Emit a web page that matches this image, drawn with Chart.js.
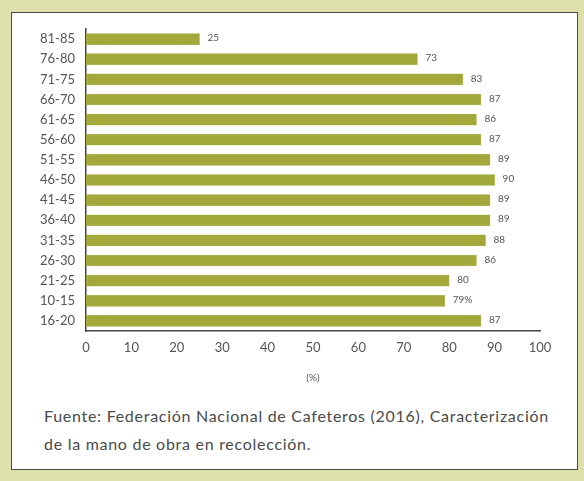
<!DOCTYPE html>
<html>
<head>
<meta charset="utf-8">
<script src="https://cdn.jsdelivr.net/npm/chart.js@4"></script>
<style>
  html, body { margin: 0; padding: 0; background: #dde0ab; }
  #wrap { position: relative; width: 584px; height: 481px; }
  #box {
    position: absolute; left: 11px; top: 12px; width: 565px; height: 456px;
    background: #ffffff; border: 1.5px solid #4a4a4a;
  }
  #myChart { position: absolute; left: 0; top: 0; }
  #fuente {
    position: absolute; left: 44px; top: 402px; width: 530px; white-space: nowrap;
    font-family: "Lato", sans-serif; font-size: 16px; line-height: 28px; color: #4a4a4a;
    letter-spacing: 0.72px;
  }
</style>
</head>
<body>
<div id="wrap">
  <div id="box"></div>
  <canvas id="myChart" width="584" height="400"></canvas>
  <div id="fuente">Fuente: Federación Nacional de Cafeteros (2016), Caracterización<br>de la mano de obra en recolección.</div>
</div>
<script>
// grupos de edad, de arriba hacia abajo
const edades = ['81-85', '76-80', '71-75', '66-70', '61-65', '56-60', '51-55', '46-50',
                '41-45', '36-40', '31-35', '26-30', '21-25', '10-15', '16-20'];
const porcentajes = [25, 73, 83, 87, 86, 87, 89, 90, 89, 89, 88, 86, 80, 79, 87];
// el texto de cada barra; el de 10-15 lleva el signo
const etiquetas = ['25', '73', '83', '87', '86', '87', '89', '90', '89', '89', '88', '86', '80', '79%', '87'];
const marcasX = [0, 10, 20, 30, 40, 50, 60, 70, 80, 90, 100];

const FUENTE = '"Lato", sans-serif';
const GRIS = '#555555';

// escribe el valor al final de cada barra
const valoresPlugin = {
    id: 'valores',
    afterDatasetsDraw(chart){
        const ctx = chart.ctx;
        const meta = chart.getDatasetMeta(0);
        ctx.save();
        ctx.font = '10px ' + FUENTE;
        ctx.fillStyle = GRIS;
        ctx.textAlign = 'left';
        ctx.textBaseline = 'middle';
        meta.data.forEach((bar, i) => {
            ctx.fillText(etiquetas[i], bar.x + 8, bar.y - 1);
        });
        ctx.restore();
    }
};

const ctx = document.getElementById('myChart').getContext('2d');
new Chart(ctx, {
    type: 'bar',
    data: {
        labels: edades,
        datasets: [{
            data: porcentajes,
            backgroundColor: '#a2a93a',
            borderColor: '#b6bc5c',
            borderWidth: 0.5,
            barThickness: 11,
        }],
    },
    options: {
        indexAxis: 'y',
        responsive: false,
        animation: false,
        layout: { padding: { top: 29, right: 44, left: 0, bottom: 0 } },
        plugins: {
            legend: { display: false },
            tooltip: { enabled: false },
        },
        scales: {
            x: {
                min: 0,
                max: 100,
                afterFit(scale){ scale.height = 69; },
                afterBuildTicks(scale){ scale.ticks = marcasX.map(v => ({ value: v })); },
                grid: { display: false, drawTicks: false },
                border: { display: true, color: '#444444', width: 1.5 },
                ticks: { color: GRIS, font: { family: FUENTE, size: 13 }, padding: 9, maxRotation: 0 },
                title: {
                    display: true,
                    text: '(%)',
                    color: GRIS,
                    font: { family: FUENTE, size: 10 },
                    padding: { top: 0, bottom: 16 },
                },
            },
            y: {
                afterFit(scale){ scale.width = 86; },
                grid: { display: false, drawTicks: false },
                border: { display: true, color: '#444444', width: 1.5 },
                ticks: { color: GRIS, font: { family: FUENTE, size: 13 }, padding: 11, autoSkip: false },
            },
        },
    },
    plugins: [valoresPlugin],
});
</script>
</body>
</html>
